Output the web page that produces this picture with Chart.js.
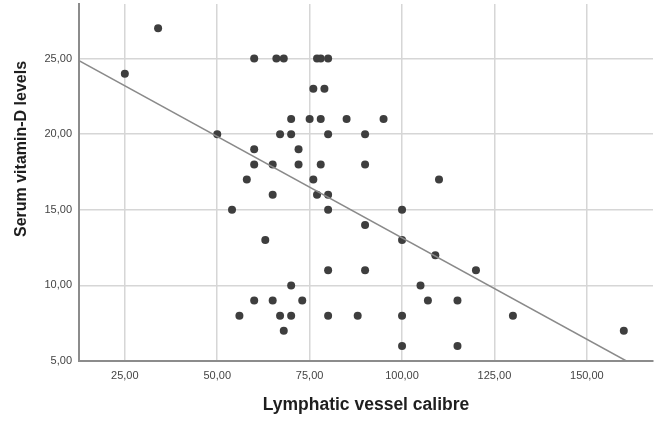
<!DOCTYPE html>
<html>
<head>
<meta charset="utf-8">
<script src="https://cdn.jsdelivr.net/npm/chart.js@4.4.1/dist/chart.umd.min.js"></script>
<style>
  html, body { margin: 0; padding: 0; background: #fff; }
  #wrap { width: 666px; height: 426px; }
</style>
</head>
<body>
<div id="wrap"><canvas id="scatterChart" width="666" height="426"></canvas></div>
<script>
// Data
const calibre = [25, 34, 60, 66, 68, 77, 78, 80, 76, 79, 70, 75, 78, 85, 95, 50, 67, 70, 80, 90,
  60, 72, 60, 65, 72, 78, 90, 58, 76, 110, 65, 77, 80, 54, 80, 100, 90, 63, 100, 109,
  80, 90, 120, 70, 105, 60, 65, 73, 107, 115, 56, 67, 70, 80, 88, 100, 130, 68, 160, 100, 115];
const vitaminD = [24, 27, 25, 25, 25, 25, 25, 25, 23, 23, 21, 21, 21, 21, 21, 20, 20, 20, 20, 20,
  19, 19, 18, 18, 18, 18, 18, 17, 17, 17, 16, 16, 16, 15, 15, 15, 14, 13, 13, 12,
  11, 11, 11, 10, 10, 9, 9, 9, 9, 9, 8, 8, 8, 8, 8, 8, 8, 7, 7, 6, 6];

// Fit line end points
const fitX = [12.6, 160.7];
const fitY = [24.87, 5.0];

// Tick labels
const xTicks = [25, 50, 75, 100, 125, 150];
const yTicks = [5, 10, 15, 20, 25];
const yTitle = 'Serum vitamin-D levels';

const fmt = v => v.toFixed(2).replace('.', ',');

const points = calibre.map((x, i) => ({ x: x, y: vitaminD[i] }));
const fitLine = fitX.map((x, i) => ({ x: x, y: fitY[i] }));

// y title sits a bit above the middle in the original, so draw it by hand
const yTitlePlugin = {
  id: 'yTitle',
  afterDraw(chart) {
    const c = chart.ctx;
    c.save();
    c.translate(22, 149);
    c.rotate(-Math.PI / 2);
    c.font = 'bold 16px "Liberation Sans"';
    c.fillStyle = '#1e1e1e';
    c.textAlign = 'center';
    c.textBaseline = 'middle';
    c.fillText(yTitle, 0, 0);
    c.restore();
  }
};

const ctx = document.getElementById('scatterChart').getContext('2d');
const chart = new Chart(ctx, {
  type: 'scatter',
  data: {
    datasets: [{
      label: 'Fit',
      data: fitLine,
      showLine: true,
      borderColor: '#8a8a8a',
      borderWidth: 1.5,
      pointRadius: 0,
      fill: false
    }, {
      label: yTitle,
      data: points,
      backgroundColor: '#3e3e3e',
      borderColor: '#3e3e3e',
      borderWidth: 0,
      pointRadius: 4
    }]
  },
  plugins: [yTitlePlugin],
  options: {
    responsive: false,
    animation: false,
    layout: { padding: { top: 0, right: 13, left: 0, bottom: 0 } },
    plugins: {
      legend: { display: false },
      tooltip: { enabled: false }
    },
    scales: {
      x: {
        type: 'linear',
        min: 12.6,
        max: 167.9,
        afterBuildTicks: s => { s.ticks = xTicks.map(v => ({ value: v })); },
        afterFit: s => { s.height = 65; s.paddingLeft = 0; s.paddingRight = 0; },
        border: { display: true, color: '#8c8c8c', width: 2 },
        grid: { color: '#d6d6d6', lineWidth: 1.5, drawTicks: false },
        ticks: {
          color: '#444',
          font: { family: 'Liberation Sans', size: 11 },
          padding: 8,
          maxRotation: 0,
          callback: v => fmt(v)
        },
        title: {
          display: true,
          text: 'Lymphatic vessel calibre',
          color: '#1e1e1e',
          font: { family: 'Liberation Sans', size: 17.5, weight: 'bold' },
          padding: { top: 4, bottom: 10 }
        }
      },
      y: {
        type: 'linear',
        min: 5,
        max: 28.61,
        afterBuildTicks: s => { s.ticks = yTicks.map(v => ({ value: v })); },
        afterFit: s => { s.width = 79; s.paddingTop = 0; s.paddingBottom = 0; },
        border: { display: true, color: '#8c8c8c', width: 2 },
        grid: { color: '#d6d6d6', lineWidth: 1.5, drawTicks: false },
        ticks: {
          color: '#444',
          font: { family: 'Liberation Sans', size: 11 },
          padding: 7,
          callback: v => fmt(v)
        }
      }
    }
  }
});
</script>
</body>
</html>
